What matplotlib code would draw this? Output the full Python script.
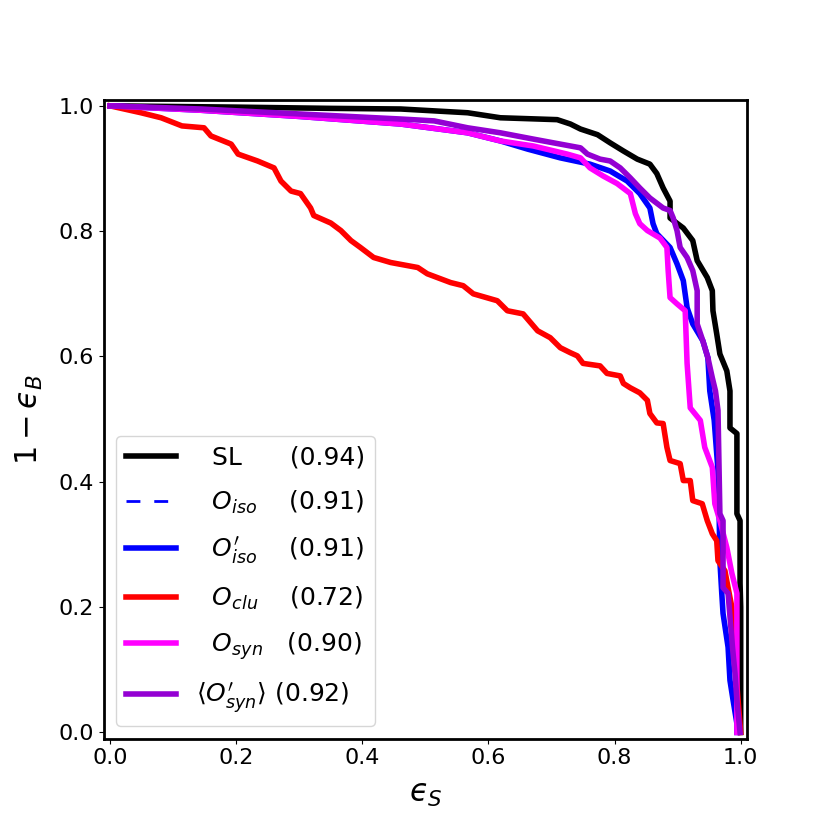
import numpy as np
import matplotlib
matplotlib.use("Agg")
import matplotlib.pyplot as plt

# ROC curves: signal efficiency vs 1 - background efficiency
sl_x = [0.0, 0.20, 0.35, 0.461, 0.567, 0.619, 0.709, 0.730, 0.746, 0.773, 0.793, 0.814, 0.836, 0.856,
        0.867, 0.877, 0.888, 0.888, 0.909, 0.924, 0.931, 0.947, 0.955, 0.956, 0.962, 0.967, 0.978,
        0.983, 0.983, 0.994, 0.994, 0.999, 0.999, 1.0, 1.0]
sl_y = [1.0, 0.998, 0.996, 0.995, 0.989, 0.981, 0.978, 0.971, 0.963, 0.954, 0.941, 0.928, 0.915, 0.907,
        0.892, 0.869, 0.848, 0.821, 0.805, 0.785, 0.753, 0.726, 0.705, 0.673, 0.636, 0.604, 0.577,
        0.545, 0.486, 0.477, 0.349, 0.338, 0.238, 0.20, 0.0]

iso_x = [0.0, 0.144, 0.302, 0.461, 0.567, 0.619, 0.662, 0.714, 0.761, 0.793, 0.820, 0.840, 0.856, 0.861,
         0.867, 0.888, 0.899, 0.909, 0.915, 0.924, 0.940, 0.948, 0.951, 0.958, 0.964, 0.966, 0.967,
         0.970, 0.972, 0.980, 0.983, 0.988, 0.994, 0.994]
iso_y = [1.0, 0.993, 0.983, 0.971, 0.957, 0.944, 0.931, 0.917, 0.907, 0.896, 0.880, 0.860, 0.837, 0.812,
         0.796, 0.774, 0.748, 0.721, 0.678, 0.652, 0.625, 0.598, 0.545, 0.498, 0.418, 0.338, 0.274,
         0.222, 0.190, 0.136, 0.083, 0.051, 0.014, 0.0]

clu_x = [0.0, 0.049, 0.081, 0.114, 0.149, 0.160, 0.192, 0.203, 0.234, 0.260, 0.271, 0.287, 0.302, 0.318,
         0.323, 0.350, 0.366, 0.382, 0.397, 0.418, 0.445, 0.488, 0.503, 0.540, 0.560, 0.576, 0.614,
         0.630, 0.655, 0.678, 0.698, 0.714, 0.730, 0.741, 0.750, 0.777, 0.788, 0.809, 0.814, 0.825,
         0.840, 0.852, 0.856, 0.867, 0.877, 0.883, 0.888, 0.904, 0.909, 0.920, 0.924, 0.939, 0.947,
         0.955, 0.962, 0.964, 0.975, 0.980, 0.986, 0.992, 1.0]
clu_y = [1.0, 0.989, 0.981, 0.968, 0.965, 0.952, 0.939, 0.923, 0.912, 0.901, 0.880, 0.864, 0.860, 0.837,
         0.825, 0.813, 0.801, 0.785, 0.774, 0.758, 0.750, 0.742, 0.732, 0.718, 0.713, 0.700, 0.689,
         0.673, 0.668, 0.641, 0.630, 0.614, 0.606, 0.601, 0.589, 0.585, 0.573, 0.569, 0.557, 0.550,
         0.542, 0.530, 0.509, 0.494, 0.493, 0.455, 0.434, 0.429, 0.402, 0.402, 0.370, 0.365, 0.338,
         0.317, 0.306, 0.274, 0.258, 0.231, 0.20, 0.10, 0.0]

syn_x = [0.0, 0.144, 0.302, 0.461, 0.567, 0.619, 0.671, 0.725, 0.746, 0.761, 0.782, 0.804, 0.825, 0.833,
         0.840, 0.852, 0.872, 0.883, 0.885, 0.888, 0.899, 0.912, 0.915, 0.920, 0.936, 0.943, 0.955,
         0.959, 0.967, 0.978, 0.986, 0.994, 0.994, 0.994]
syn_y = [1.0, 0.993, 0.983, 0.971, 0.957, 0.944, 0.936, 0.923, 0.917, 0.901, 0.888, 0.876, 0.860, 0.828,
         0.812, 0.801, 0.789, 0.774, 0.737, 0.694, 0.684, 0.673, 0.589, 0.518, 0.498, 0.455, 0.423,
         0.365, 0.338, 0.295, 0.254, 0.222, 0.03, 0.0]

synp_x = [0.0, 0.144, 0.302, 0.461, 0.514, 0.567, 0.619, 0.671, 0.703, 0.746, 0.757, 0.777, 0.793, 0.809,
          0.825, 0.840, 0.856, 0.877, 0.888, 0.893, 0.899, 0.904, 0.915, 0.924, 0.931, 0.931, 0.940,
          0.948, 0.955, 0.960, 0.964, 0.967, 0.972, 0.972, 0.980, 0.987, 0.991, 0.994, 0.999]
synp_y = [1.0, 0.995, 0.987, 0.979, 0.976, 0.965, 0.957, 0.947, 0.941, 0.933, 0.923, 0.915, 0.912, 0.901,
          0.885, 0.869, 0.853, 0.837, 0.833, 0.821, 0.801, 0.774, 0.758, 0.737, 0.705, 0.652, 0.625,
          0.598, 0.566, 0.545, 0.514, 0.349, 0.338, 0.231, 0.222, 0.136, 0.094, 0.051, 0.0]

labels = ['  SL      (0.94)',
          r'  $O_{iso}$    (0.91)',
          r'  $O^{\prime}_{iso}$    (0.91)',
          r'  $O_{clu}$    (0.72)',
          r'  $O_{syn}$   (0.90)',
          r'$\langle O^{\prime}_{syn}\rangle$ (0.92)']

fig = plt.figure(figsize=(8.3, 8.3), dpi=100)
ax = fig.add_subplot(111)

ax.plot(sl_x, sl_y, color='k', lw=4, label=labels[0])
ax.plot(iso_x, iso_y, color='b', lw=2, linestyle=(0, (5, 5)), label=labels[1])
ax.plot(iso_x, iso_y, color='b', lw=4, label=labels[2])
ax.plot(clu_x, clu_y, color='r', lw=4, label=labels[3])
ax.plot(syn_x, syn_y, color='magenta', lw=4, label=labels[4])
ax.plot(synp_x, synp_y, color='darkviolet', lw=4, label=labels[5])

ax.set_xlim(-0.01, 1.01)
ax.set_ylim(-0.01, 1.01)
ax.set_xlabel('$\u03f5_S$', fontsize=22, labelpad=8)
ax.set_ylabel('$1-\u03f5_B$', fontsize=22, labelpad=10)
ax.tick_params(labelsize=16)
for s in ax.spines.values():
    s.set_linewidth(2)

ax.legend(loc='lower left', fontsize=18, labelspacing=0.75)

plt.savefig('out.png', dpi=100)
